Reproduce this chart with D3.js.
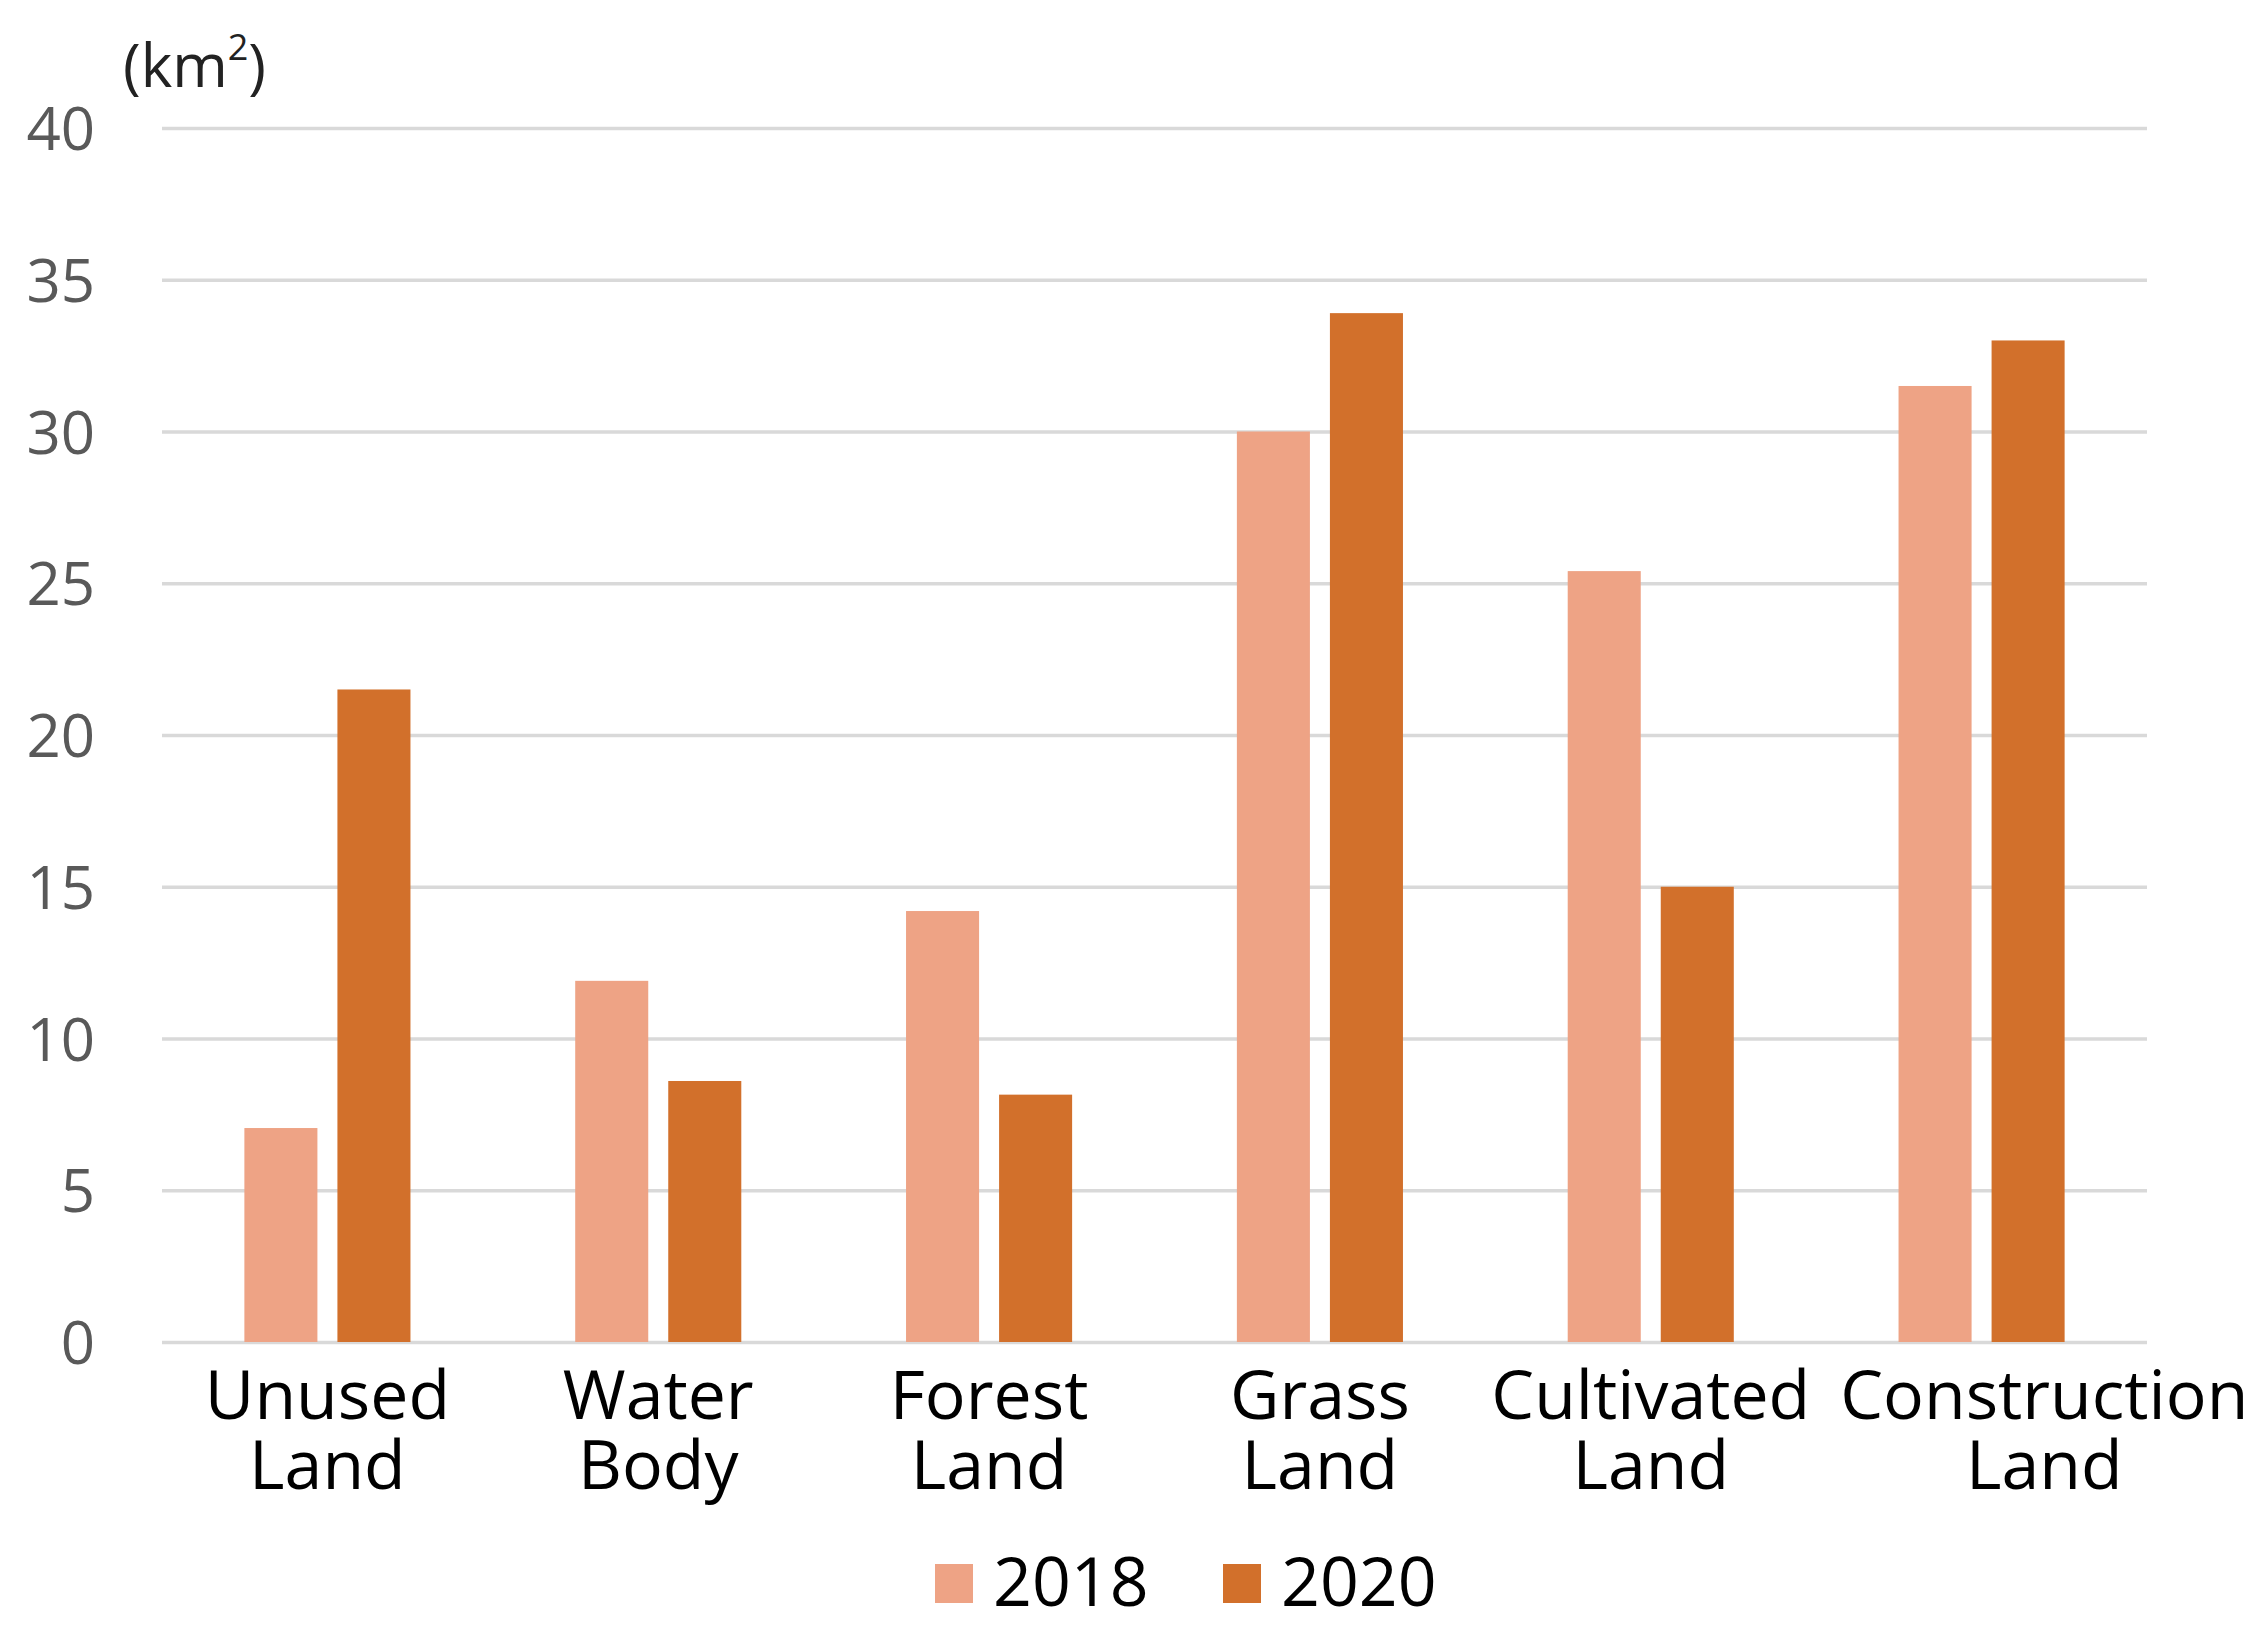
<!DOCTYPE html>
<html>
<head>
<meta charset="utf-8">
<script src="https://cdn.jsdelivr.net/npm/d3@7"></script>
<style>
    body { margin: 0; background: #fff; }
    text { font-family: "Open Sans", "Noto Sans", sans-serif; }
</style>
</head>
<body>
<div id="chart"></div>
<script>
// land use area by class, km2
let categories = ['Unused Land', 'Water Body', 'Forest Land', 'Grass Land', 'Cultivated Land', 'Construction Land'];
let seriesNames = ['2018', '2020'];
let values2018 = [7.05, 11.9, 14.2, 30.0, 25.4, 31.5];
let values2020 = [21.5, 8.6, 8.15, 33.9, 15.0, 33.0];
let yTicks = [0, 5, 10, 15, 20, 25, 30, 35, 40];
let colors = ['#eea385', '#d2702b'];

let W = 2259,
    H = 1630,
    margin = {
        top: 128,
        right: 112,
        bottom: 288,
        left: 162
    },
    width = W - margin.left - margin.right,
    height = H - margin.top - margin.bottom;

let svg = d3.select('#chart').append('svg')
    .attr('width', W)
    .attr('height', H),
    g = svg.append('g')
    .attr('transform', 'translate(' + margin.left + ',' + margin.top + ')');

let x0 = d3.scaleBand()
    .domain(categories)
    .range([0, width])
    .paddingInner(0.498)
    .paddingOuter(0.249);

let x1 = d3.scaleBand()
    .domain(seriesNames)
    .range([0, x0.bandwidth()])
    .paddingInner(0.215);

let y = d3.scaleLinear()
    .domain([0, 40])
    .range([height, 0]);

// y axis + gridlines
let yAxis = g.append('g')
    .call(d3.axisLeft(y).tickValues(yTicks).tickSize(-width).tickPadding(67));
yAxis.select('.domain').remove();
yAxis.selectAll('line')
    .attr('stroke', '#d9d9d9')
    .attr('stroke-width', 3.5);
yAxis.selectAll('text')
    .attr('fill', '#595959')
    .style('font-size', '60px')
    .attr('dy', '0.36em');

// bars
let rows = categories.map(function(c, i) {
    return {cat: c, vals: [values2018[i], values2020[i]]};
});

let group = g.selectAll('.grp')
    .data(rows)
    .enter().append('g')
    .attr('class', 'grp')
    .attr('transform', function(d) {
        return 'translate(' + x0(d.cat) + ',0)';
    });

group.selectAll('rect')
    .data(function(d) {
        return d.vals.map(function(v, j) {
            return {key: seriesNames[j], value: v, idx: j};
        });
    })
    .enter().append('rect')
    .attr('x', function(d) { return x1(d.key); })
    .attr('y', function(d) { return y(d.value); })
    .attr('width', x1.bandwidth())
    .attr('height', function(d) { return height - y(d.value); })
    .attr('fill', function(d) { return colors[d.idx]; });

// x axis labels, two lines each
let xAxis = g.append('g')
    .attr('transform', 'translate(0,' + height + ')')
    .call(d3.axisBottom(x0).tickSize(0).tickFormat(''));
xAxis.select('.domain').remove();

let labels = [];
xAxis.selectAll('.tick').each(function(d) {
    let words = d.split(' ');
    let t = d3.select(this).append('text')
        .attr('fill', '#000')
        .attr('text-anchor', 'middle')
        .style('font-size', '68px');
    words.forEach(function(w, i) {
        t.append('tspan')
            .attr('x', 0)
            .attr('y', 77 + i * 70)
            .text(w);
    });
    labels.push(t);
});

// push labels apart where they collide (like excel does)
for (let i = 1; i < labels.length; i++) {
    let prev = labels[i - 1].node().getBoundingClientRect(),
        cur = labels[i].node().getBoundingClientRect();
    let overlap = prev.right + 30 - cur.left;
    if (overlap > 0) {
        labels[i].attr('transform', 'translate(' + overlap + ',0)');
    }
}

// unit label
let unit = svg.append('text')
    .attr('x', 123)
    .attr('y', 87)
    .attr('fill', '#222')
    .style('font-size', '60px');
unit.append('tspan').text('(km');
unit.append('tspan').attr('dy', -27).style('font-size', '36px').text('2');
unit.append('tspan').attr('dy', 27).text(')');

// legend
let legend = svg.append('g')
    .attr('transform', 'translate(935,1564)');

let lx = [0, 288];
seriesNames.forEach(function(s, i) {
    let item = legend.append('g')
        .attr('transform', 'translate(' + lx[i] + ',0)');
    item.append('rect')
        .attr('width', 38)
        .attr('height', 39)
        .attr('fill', colors[i]);
    item.append('text')
        .attr('x', 58)
        .attr('y', 42)
        .attr('fill', '#000')
        .style('font-size', '68px')
        .text(s);
});
</script>
</body>
</html>
